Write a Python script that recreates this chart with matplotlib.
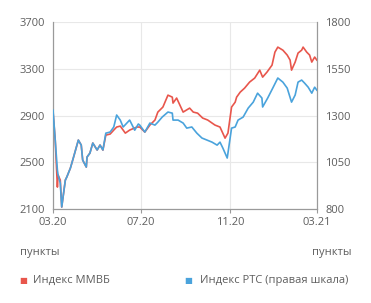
import matplotlib
matplotlib.use("Agg")
import matplotlib.pyplot as plt
import pandas as pd

start = "2020-03-01"
# day offsets from start and values
micex_days = [0,3,6,7,10,12,17,19,24,28,35,39,41,46,47,51,55,61,65,69,73,79,84,88,93,100,106,116,120,127,
              134,141,145,152,159,165,166,171,180,189,194,200,207,214,224,231,238,242,247,252,254,259,265,272,
              279,286,290,296,303,307,311,318,324,328,330,335,339,344,346,351,355,358,362,365]
micex_vals = [2930,2690,2288,2391,2348,2117,2348,2374,2451,2536,2690,2648,2519,2459,2545,2579,2665,2605,2648,2605,
              2733,2742,2776,2802,2810,2750,2776,2802,2802,2759,2819,2862,2930,2973,3075,3058,3007,3050,2930,2964,
              2930,2921,2879,2862,2819,2802,2707,2750,2973,3015,3058,3101,3135,3187,3221,3289,3229,3272,3332,3443,
              3486,3460,3418,3375,3289,3358,3435,3460,3486,3443,3418,3358,3401,3375]
rts_days = [0,3,6,7,10,12,17,19,24,28,35,39,41,46,47,51,55,61,65,69,73,79,84,88,93,97,106,113,118,120,127,134,
            141,145,151,159,165,166,173,180,185,192,199,206,213,220,227,231,235,241,242,247,252,256,263,270,277,
            283,289,290,297,304,311,318,324,330,335,339,344,348,353,358,362,365]
rts_vals = [1329,1169,1009,982,939,811,955,971,1019,1073,1169,1142,1062,1025,1078,1099,1153,1116,1142,1116,
            1206,1212,1239,1303,1276,1239,1276,1222,1255,1249,1212,1260,1249,1265,1292,1319,1313,1276,1276,1260,
            1233,1239,1206,1180,1169,1158,1142,1158,1126,1073,1099,1233,1239,1276,1292,1340,1372,1420,1394,1346,
            1394,1447,1501,1479,1447,1372,1410,1479,1490,1474,1452,1420,1452,1436]

left_ticks = [2100, 2500, 2900, 3300, 3700]
right_ticks = [800, 1050, 1300, 1550, 1800]
x_tick_dates = ["2020-03-01", "2020-07-01", "2020-11-01", "2021-03-01"]
x_tick_labels = ["03.20", "07.20", "11.20", "03.21"]
unit_label = "пункты"
micex_name = "Индекс ММВБ"
rts_name = "Индекс РТС (правая шкала)"

RED = "#e8564c"
BLUE = "#4aa3dc"
TXT = "#5e5e5e"
GRID = "#e8e8e8"
SPINE = "#9a9a9a"

plt.rcParams['font.family'] = ['Open Sans', 'DejaVu Sans']

t0 = pd.Timestamp(start)
mx = t0 + pd.to_timedelta(micex_days, unit="D")
rx = t0 + pd.to_timedelta(rts_days, unit="D")

fig = plt.figure(figsize=(3.71, 3.03), dpi=100)
ax = fig.add_axes([0.143, 0.310, 0.711, 0.617])
ax2 = ax.twinx()

ax.plot(mx, micex_vals, color=RED, lw=1.2, zorder=3)
ax2.plot(rx, rts_vals, color=BLUE, lw=1.2, zorder=3)

xt = pd.to_datetime(x_tick_dates)
ax.set_xlim(xt[0], xt[-1])
ax.set_xticks(xt)
ax.set_xticklabels(x_tick_labels)
ax.set_ylim(left_ticks[0], left_ticks[-1])
ax.set_yticks(left_ticks)
ax2.set_ylim(right_ticks[0], right_ticks[-1])
ax2.set_yticks(right_ticks)

ax.grid(True, color=GRID, lw=0.8)
ax.set_axisbelow(True)
for a in (ax, ax2):
    a.spines['top'].set_visible(False)
    for s in ('left', 'right', 'bottom'):
        a.spines[s].set_color(SPINE)
        a.spines[s].set_linewidth(0.8)
ax.tick_params(axis='x', colors=TXT, labelsize=8, length=3, color=SPINE, pad=3)
ax.tick_params(axis='y', colors=TXT, labelsize=8, length=0, pad=6)
ax2.tick_params(axis='y', colors=TXT, labelsize=8, length=0, pad=6)

fig.text(0.054, 0.168, unit_label, color=TXT, fontsize=8, ha='left', va='center')
fig.text(0.948, 0.168, unit_label, color=TXT, fontsize=8, ha='right', va='center')

fig.text(0.062, 0.075, "■", color=RED, fontsize=6, ha='center', va='center', family='DejaVu Sans')
fig.text(0.09, 0.075, micex_name, color=TXT, fontsize=8, ha='left', va='center')
fig.text(0.507, 0.075, "■", color=BLUE, fontsize=6, ha='center', va='center', family='DejaVu Sans')
fig.text(0.54, 0.075, rts_name, color=TXT, fontsize=8, ha='left', va='center')

fig.savefig("out.png", dpi=100, facecolor="white")
